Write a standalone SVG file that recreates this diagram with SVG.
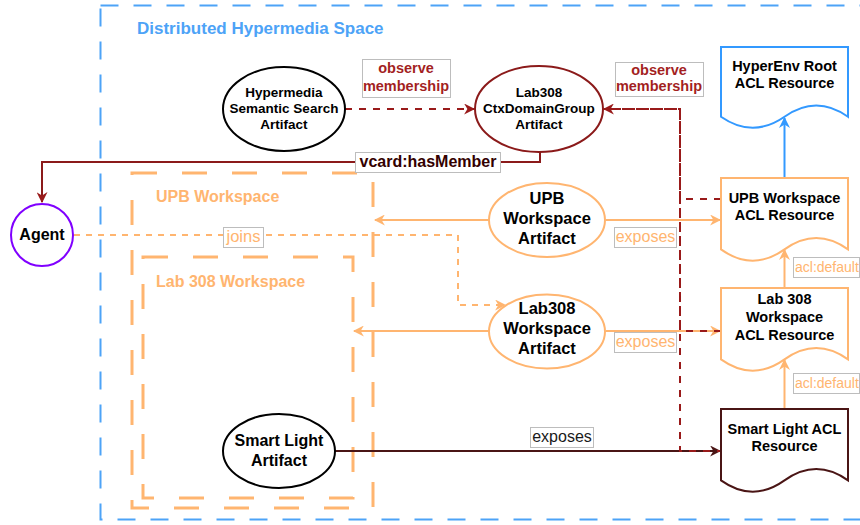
<svg xmlns="http://www.w3.org/2000/svg" width="860" height="525" viewBox="0 0 860 525">
<style>
text{font-family:"Liberation Sans",Arial,sans-serif;}
.b{font-weight:bold;fill:#000;}
.c{text-anchor:middle;}
.or{fill:#FFB570;}
.lbl{fill:#fff;stroke:#bdbdbd;stroke-width:1;}
.ln{fill:none;stroke-width:2;}
</style>
<defs>
<marker id="aBlue" viewBox="0 0 10 10" refX="9" refY="5" markerWidth="11" markerHeight="11" markerUnits="userSpaceOnUse" orient="auto"><path d="M0,0 L10,5 L0,10 L3,5 Z" fill="#3399FF"/></marker>
<marker id="aOr" viewBox="0 0 10 10" refX="9" refY="5" markerWidth="11" markerHeight="11" markerUnits="userSpaceOnUse" orient="auto"><path d="M0,0 L10,5 L0,10 L3,5 Z" fill="#FFB570"/></marker>
<marker id="aRed" viewBox="0 0 10 10" refX="9" refY="5" markerWidth="11" markerHeight="11" markerUnits="userSpaceOnUse" orient="auto"><path d="M0,0 L10,5 L0,10 L3,5 Z" fill="#991A1A"/></marker>
<marker id="aDk" viewBox="0 0 10 10" refX="9" refY="5" markerWidth="11" markerHeight="11" markerUnits="userSpaceOnUse" orient="auto"><path d="M0,0 L10,5 L0,10 L3,5 Z" fill="#4A1515"/></marker>
</defs>
<rect width="860" height="525" fill="#fff"/>

<g id="space">
<rect x="100.5" y="5.5" width="800" height="514" fill="none" stroke="#4DA3F7" stroke-width="2" stroke-dasharray="18 15"/>
<text x="137" y="34" font-size="17" font-weight="bold" fill="#4DA3F7">Distributed Hypermedia Space</text>
</g>
<g id="upb-workspace">
<rect x="132" y="173" width="241" height="335" fill="none" stroke="#FFB570" stroke-width="3" stroke-dasharray="25 25"/>
<text x="156" y="202" font-size="16" font-weight="bold" class="or">UPB Workspace</text>
</g>
<g id="lab308-workspace">
<rect x="143" y="257" width="210" height="241" fill="none" stroke="#FFB570" stroke-width="3" stroke-dasharray="25 25"/>
<text x="156" y="287" font-size="16" font-weight="bold" class="or">Lab 308 Workspace</text>
</g>

<g id="connectors">
<path class="ln" d="M540,152 V162 H42 V202" stroke="#8B1A1A" marker-end="url(#aRed)"/>
<path class="ln" d="M345,109 H474" stroke="#991A1A" stroke-dasharray="7 7" marker-end="url(#aRed)"/>
<path class="ln" d="M721,199 H680 V109 H604" stroke="#991A1A" stroke-dasharray="7 7" marker-end="url(#aRed)"/>
<path class="ln" d="M721,331 H680 V109 H604" stroke="#991A1A" stroke-dasharray="7 7"/>
<path class="ln" d="M335,451 H720" stroke="#4A1515" marker-end="url(#aDk)"/>
<path class="ln" d="M721,451 H680 V109" stroke="#991A1A" stroke-dasharray="7 7" stroke-dashoffset="3"/>
<path class="ln" d="M74,235 H458 V305 H505" stroke="#FFB570" stroke-width="2.5" stroke-dasharray="6 6" marker-end="url(#aOr)"/>
<path class="ln" d="M489,220 H375" stroke="#FFB570" marker-end="url(#aOr)"/>
<path class="ln" d="M489,331 H354" stroke="#FFB570" marker-end="url(#aOr)"/>
<path class="ln" d="M606,220 H720" stroke="#FFB570" marker-end="url(#aOr)"/>
<path class="ln" d="M606,331 H720" stroke="#FFB570" marker-end="url(#aOr)"/>
<path class="ln" d="M721,331 H680" stroke="#991A1A" stroke-dasharray="7 7"/>
<path class="ln" d="M784.5,178 V118" stroke="#3399FF" marker-end="url(#aBlue)"/>
<path class="ln" d="M784.5,288 V250" stroke="#FFB570" marker-end="url(#aOr)"/>
<path class="ln" d="M784.5,409 V360" stroke="#FFB570" marker-end="url(#aOr)"/>

<rect class="lbl" x="355.5" y="152.5" width="145" height="20"/>
<text x="428" y="167" font-size="16" font-weight="bold" fill="#330000" class="c">vcard:hasMember</text>
<rect class="lbl" x="362.5" y="59.5" width="88" height="38"/>
<text x="406" y="73" font-size="14.5" font-weight="bold" fill="#A31F1F" class="c">observe</text>
<text x="406" y="91" font-size="14.5" font-weight="bold" fill="#A31F1F" class="c">membership</text>
<rect class="lbl" x="615.5" y="62.5" width="88" height="34"/>
<text x="659" y="75" font-size="14.5" font-weight="bold" fill="#A31F1F" class="c">observe</text>
<text x="659" y="91" font-size="14.5" font-weight="bold" fill="#A31F1F" class="c">membership</text>
<rect class="lbl" x="223.5" y="227.5" width="40" height="20"/>
<text x="243.5" y="242" font-size="16.5" class="c or">joins</text>
<rect class="lbl" x="614.5" y="227.5" width="62" height="20"/>
<text x="645.5" y="242" font-size="16" class="c or">exposes</text>
<rect class="lbl" x="614.5" y="332.5" width="62" height="20"/>
<text x="645.5" y="347" font-size="16" class="c or">exposes</text>
<rect class="lbl" x="530.5" y="427.5" width="63" height="20"/>
<text x="562" y="442" font-size="16" class="c" fill="#1a1a1a">exposes</text>
<rect class="lbl" x="793.5" y="257.5" width="66" height="20"/>
<text x="795" y="272" font-size="14" class="or">acl:default</text>
<rect class="lbl" x="793.5" y="373.5" width="66" height="20"/>
<text x="795" y="388" font-size="14" class="or">acl:default</text>
</g>

<g id="agent">
<circle cx="42" cy="235" r="31" fill="#fff" stroke="#8000FF" stroke-width="2"/>
<text x="42" y="240" font-size="16" class="b c">Agent</text>
</g>
<g id="semantic-search">
<ellipse cx="284" cy="109" rx="61" ry="42" fill="#fff" stroke="#000" stroke-width="2"/>
<text x="284" y="97" font-size="13.5" class="b c">Hypermedia</text>
<text x="284" y="113" font-size="13.5" class="b c">Semantic Search</text>
<text x="284" y="129" font-size="13.5" class="b c">Artifact</text>
</g>
<g id="ctxdomaingroup">
<ellipse cx="539" cy="109" rx="64" ry="43" fill="#fff" stroke="#8B1A1A" stroke-width="2"/>
<text x="539" y="97" font-size="13.5" class="b c">Lab308</text>
<text x="539" y="113" font-size="13.5" class="b c">CtxDomainGroup</text>
<text x="539" y="129" font-size="13.5" class="b c">Artifact</text>
</g>
<g id="upb-artifact">
<ellipse cx="547" cy="220" rx="58" ry="37" fill="#fff" stroke="#FFB570" stroke-width="2"/>
<text x="547" y="204" font-size="16.5" class="b c">UPB</text>
<text x="547" y="224" font-size="16.5" class="b c">Workspace</text>
<text x="547" y="244" font-size="16.5" class="b c">Artifact</text>
</g>
<g id="lab308-artifact">
<ellipse cx="547" cy="331.5" rx="58" ry="37" fill="#fff" stroke="#FFB570" stroke-width="2"/>
<text x="547" y="314" font-size="16.5" class="b c">Lab308</text>
<text x="547" y="334" font-size="16.5" class="b c">Workspace</text>
<text x="547" y="354" font-size="16.5" class="b c">Artifact</text>
</g>
<g id="smartlight-artifact">
<ellipse cx="279" cy="451" rx="56" ry="37" fill="#fff" stroke="#000" stroke-width="2"/>
<text x="279" y="446" font-size="16" class="b c">Smart Light</text>
<text x="279" y="466" font-size="16" class="b c">Artifact</text>
</g>
<g id="hyperenv-acl">
<path d="M721,47 H848 V116.7 Q816.25,94.2 784.5,116.7 Q752.75,138.8 721,116.7 Z" fill="#fff" stroke="#3399FF" stroke-width="2"/>
<text x="784.5" y="71" font-size="14.5" class="b c">HyperEnv Root</text>
<text x="784.5" y="88" font-size="14.5" class="b c">ACL Resource</text>
</g>
<g id="upb-acl">
<path d="M721,178 H848 V249.4 Q816.25,226.7 784.5,249.4 Q752.75,272.1 721,249.4 Z" fill="#fff" stroke="#FFB570" stroke-width="2"/>
<text x="784.5" y="203" font-size="14.5" class="b c">UPB Workspace</text>
<text x="784.5" y="220" font-size="14.5" class="b c">ACL Resource</text>
</g>
<g id="lab308-acl">
<path d="M721,288 H848 V359.4 Q816.25,336.7 784.5,359.4 Q752.75,382.1 721,359.4 Z" fill="#fff" stroke="#FFB570" stroke-width="2"/>
<text x="784.5" y="304" font-size="14.5" class="b c">Lab 308</text>
<text x="784.5" y="322" font-size="14.5" class="b c">Workspace</text>
<text x="784.5" y="340" font-size="14.5" class="b c">ACL Resource</text>
</g>
<g id="smartlight-acl">
<path d="M721,409 H848 V480.4 Q816.25,457.7 784.5,480.4 Q752.75,503.1 721,480.4 Z" fill="#fff" stroke="#4A1515" stroke-width="2"/>
<text x="784.5" y="434" font-size="14.5" class="b c">Smart Light ACL</text>
<text x="784.5" y="451" font-size="14.5" class="b c">Resource</text>
</g>
</svg>
